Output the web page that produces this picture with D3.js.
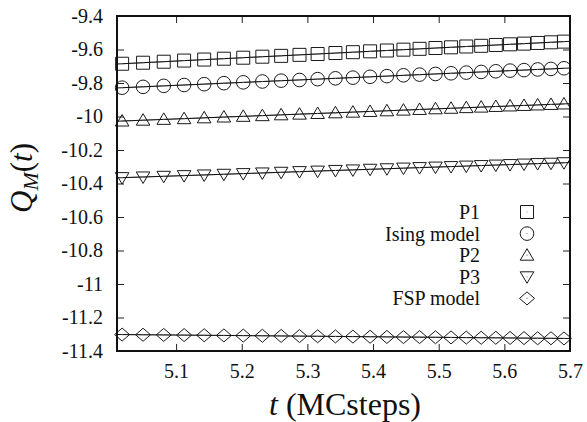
<!DOCTYPE html>
<html>
<head>
<meta charset="utf-8">
<script src="https://cdn.jsdelivr.net/npm/d3@7"></script>
<style>
  html, body { margin: 0; padding: 0; background: #fff; }
  svg { display: block; }
  svg text { font-family: "Liberation Serif", "Times New Roman", Tinos, "Nimbus Roman", "DejaVu Serif", "Noto Serif", serif; fill: #111; }
</style>
</head>
<body>
<svg id="chart" width="587" height="422"></svg>
<script>
// log10 of time (MC steps) at which Q_M(t) was sampled
const logT = [5.0178, 5.0497, 5.0812, 5.1122, 5.1428, 5.1728, 5.2023, 5.2314, 5.2600,
  5.2880, 5.3156, 5.3427, 5.3693, 5.3955, 5.4211, 5.4463, 5.4709, 5.4951, 5.5188,
  5.5420, 5.5647, 5.5870, 5.6087, 5.6300, 5.6507, 5.6710, 5.6908];

const qP1 = [-9.685, -9.679, -9.673, -9.666, -9.660, -9.655, -9.649, -9.643, -9.638,
  -9.632, -9.627, -9.621, -9.616, -9.611, -9.606, -9.601, -9.596, -9.591, -9.587,
  -9.582, -9.578, -9.573, -9.569, -9.565, -9.561, -9.557, -9.553];

const qIsing = [-9.828, -9.823, -9.817, -9.812, -9.807, -9.801, -9.796, -9.791, -9.786,
  -9.782, -9.777, -9.772, -9.768, -9.763, -9.759, -9.754, -9.750, -9.746, -9.742,
  -9.738, -9.734, -9.730, -9.726, -9.723, -9.719, -9.716, -9.712];

const qP2 = [-10.027, -10.022, -10.017, -10.013, -10.008, -10.003, -9.999, -9.995, -9.990,
  -9.986, -9.982, -9.978, -9.974, -9.970, -9.966, -9.962, -9.958, -9.954, -9.951,
  -9.947, -9.944, -9.940, -9.937, -9.934, -9.931, -9.928, -9.925];

const qP3 = [-10.365, -10.361, -10.357, -10.353, -10.349, -10.345, -10.341, -10.337, -10.333,
  -10.329, -10.326, -10.322, -10.319, -10.315, -10.312, -10.308, -10.305, -10.302, -10.299,
  -10.296, -10.293, -10.290, -10.287, -10.284, -10.281, -10.279, -10.276];

const qFSP = [-11.302, -11.303, -11.304, -11.305, -11.306, -11.307, -11.308, -11.309, -11.310,
  -11.311, -11.312, -11.313, -11.314, -11.315, -11.316, -11.317, -11.317, -11.318, -11.319,
  -11.320, -11.321, -11.321, -11.322, -11.323, -11.324, -11.324, -11.325];

const seriesNames = ["P1", "Ising model", "P2", "P3", "FSP model"];
const seriesMarkers = ["square", "circle", "triangleUp", "triangleDown", "diamond"];
const seriesValues = [qP1, qIsing, qP2, qP3, qFSP];

const xTicks = [5.1, 5.2, 5.3, 5.4, 5.5, 5.6, 5.7];
const yTicks = [-9.4, -9.6, -9.8, -10, -10.2, -10.4, -10.6, -10.8, -11, -11.2, -11.4];

const serif = "'Liberation Serif', 'Times New Roman', Tinos, 'Nimbus Roman', 'DejaVu Serif', 'Noto Serif', serif";

const svg = d3.select("#chart");
const plotLeft = 117, plotRight = 570, plotTop = 16, plotBottom = 351;

const x = d3.scaleLinear().domain([5.01, 5.7]).range([plotLeft, plotRight]);
const y = d3.scaleLinear().domain([-11.4, -9.4]).range([plotBottom, plotTop]);

// marker outlines, centred on the data point
const markerPath = {
  square: "M-6.5,-6.5H6.5V6.5H-6.5Z",
  circle: "M6.8,0A6.8,6.8 0 1 1 -6.8,0A6.8,6.8 0 1 1 6.8,0Z",
  triangleUp: "M0,-6.5L6.8,5L-6.8,5Z",
  triangleDown: "M0,6.5L6.8,-5L-6.8,-5Z",
  diamond: "M0,-6.5L7.5,0L0,6.5L-7.5,0Z"
};

const fmt = v => String(+v.toFixed(1));

// axes with inward ticks, mirrored on top and right
const gx = svg.append("g").attr("transform", `translate(0,${plotBottom})`)
  .call(d3.axisBottom(x).tickValues(xTicks).tickSizeInner(-7).tickSizeOuter(0)
    .tickPadding(13).tickFormat(fmt));
const gxt = svg.append("g").attr("transform", `translate(0,${plotTop})`)
  .call(d3.axisTop(x).tickValues(xTicks).tickSizeInner(-7).tickSizeOuter(0).tickFormat(""));
const gy = svg.append("g").attr("transform", `translate(${plotLeft},0)`)
  .call(d3.axisLeft(y).tickValues(yTicks).tickSizeInner(-7).tickSizeOuter(0)
    .tickPadding(14).tickFormat(fmt));
const gyr = svg.append("g").attr("transform", `translate(${plotRight},0)`)
  .call(d3.axisRight(y).tickValues(yTicks).tickSizeInner(-7).tickSizeOuter(0).tickFormat(""));

[gx, gxt, gy, gyr].forEach(g => {
  g.attr("font-family", serif);
  g.select(".domain").remove();
  g.selectAll(".tick line").attr("stroke", "#222").attr("stroke-width", 1);
  g.selectAll(".tick text").attr("font-size", 20).attr("fill", "#111");
});

const plot = svg.append("g");

seriesValues.forEach((vals, i) => {
  const pts = logT.map((t, k) => [t, vals[k]]);

  // measured values joined by a thin grey line
  plot.append("path")
    .datum(pts)
    .attr("fill", "none").attr("stroke", "#8a8a8a").attr("stroke-width", 1)
    .attr("d", d3.line().x(d => x(d[0])).y(d => y(d[1])));

  // least-squares straight line through the series
  const mx = d3.mean(pts, d => d[0]), my = d3.mean(pts, d => d[1]);
  const slope = d3.sum(pts, d => (d[0] - mx) * (d[1] - my)) / d3.sum(pts, d => (d[0] - mx) ** 2);
  const x0 = x.domain()[0], x1 = x.domain()[1];
  plot.append("line")
    .attr("x1", x(x0)).attr("y1", y(my + slope * (x0 - mx)))
    .attr("x2", x(x1)).attr("y2", y(my + slope * (x1 - mx)))
    .attr("stroke", "#111").attr("stroke-width", 1);

  const g = plot.append("g");
  g.selectAll("path.m").data(pts).join("path")
    .attr("class", "m")
    .attr("transform", d => `translate(${x(d[0])},${y(d[1])})`)
    .attr("d", markerPath[seriesMarkers[i]])
    .attr("fill", "none").attr("stroke", "#1a1a1a").attr("stroke-width", 1);
  g.selectAll("circle.dot").data(pts).join("circle")
    .attr("class", "dot")
    .attr("cx", d => x(d[0])).attr("cy", d => y(d[1])).attr("r", 0.6)
    .attr("fill", "#777");
});

// legend
const legendY0 = 212, legendStep = 21.6, legendTextX = 480, legendMarkX = 527;
seriesNames.forEach((name, i) => {
  const ly = legendY0 + i * legendStep;
  svg.append("text")
    .attr("x", legendTextX).attr("y", ly + 7)
    .attr("text-anchor", "end").attr("font-size", 20)
    .attr("font-family", serif)
    .text(name);
  svg.append("path")
    .attr("transform", `translate(${legendMarkX},${ly})`)
    .attr("d", markerPath[seriesMarkers[i]])
    .attr("fill", "none").attr("stroke", "#1a1a1a").attr("stroke-width", 1);
  svg.append("circle").attr("cx", legendMarkX).attr("cy", ly).attr("r", 0.6).attr("fill", "#777");
});

// frame
svg.append("rect")
  .attr("x", plotLeft).attr("y", plotTop)
  .attr("width", plotRight - plotLeft).attr("height", plotBottom - plotTop)
  .attr("fill", "none").attr("stroke", "#111").attr("stroke-width", 2);

// axis titles
const xt = svg.append("text")
  .attr("x", 345).attr("y", 415).attr("text-anchor", "middle").attr("font-size", 32)
  .attr("font-family", serif);
xt.append("tspan").attr("font-style", "italic").text("t");
xt.append("tspan").text(" (MCsteps)");

const yt = svg.append("text")
  .attr("transform", "translate(32,178) rotate(-90)")
  .attr("text-anchor", "middle").attr("font-size", 31)
  .attr("font-family", serif);
yt.append("tspan").attr("font-style", "italic").text("Q");
yt.append("tspan").attr("font-style", "italic").attr("font-size", 22).attr("dy", 6).text("M");
yt.append("tspan").attr("dy", -6).text("(");
yt.append("tspan").attr("font-style", "italic").text("t");
yt.append("tspan").text(")");
</script>
</body>
</html>
